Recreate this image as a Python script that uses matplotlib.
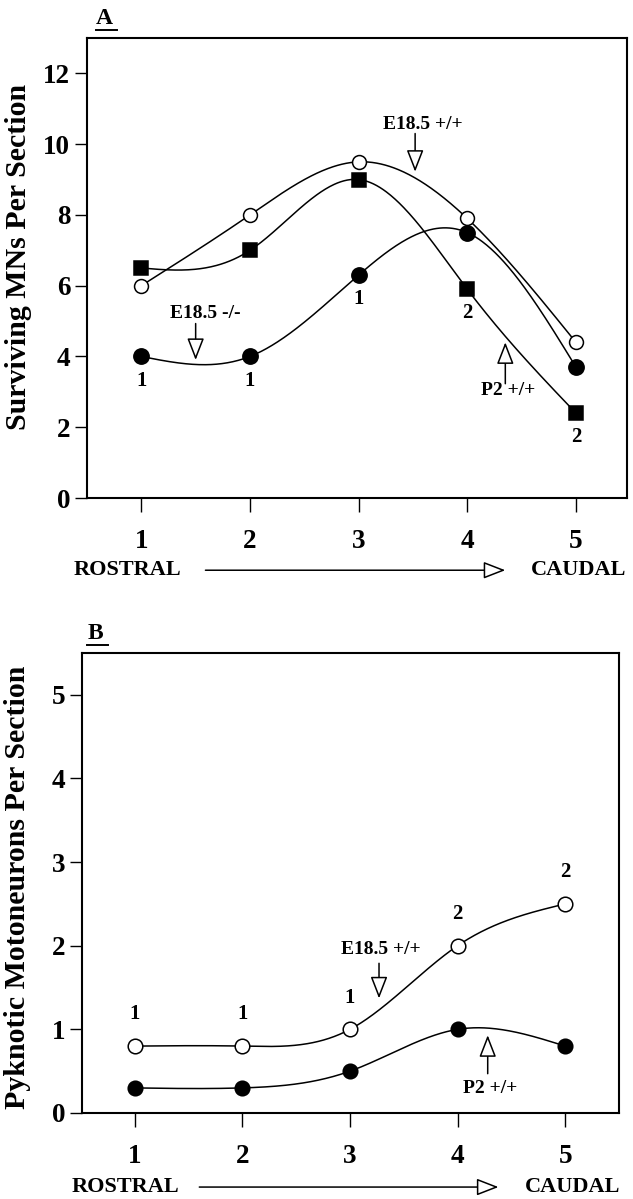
import numpy as np
import matplotlib
matplotlib.use("Agg")
import matplotlib.pyplot as plt
from matplotlib.lines import Line2D

plt.rcParams['font.family'] = ['Liberation Serif', 'DejaVu Serif']
plt.rcParams['font.weight'] = 'bold'

# ---------------- data ----------------
levels = [1, 2, 3, 4, 5]
level_labels = ['1', '2', '3', '4', '5']

# Panel A: surviving MNs per section
a_e185_wt = [6.0, 8.0, 9.5, 7.9, 4.4]      # open circles (E18.5 +/+)
a_p2_wt = [6.5, 7.0, 9.0, 5.9, 2.4]        # filled squares (P2 +/+)
a_e185_ko = [4.0, 4.0, 6.3, 7.5, 3.7]      # filled circles (E18.5 -/-)
a_yticks = [0, 2, 4, 6, 8, 10, 12]

# Panel B: pyknotic motoneurons per section
b_e185_wt = [0.8, 0.8, 1.0, 2.0, 2.5]      # open circles (E18.5 +/+)
b_p2_wt = [0.3, 0.3, 0.5, 1.0, 0.8]        # filled circles (P2 +/+)
b_yticks = [0, 1, 2, 3, 4, 5]

# small number labels (n) near points
a_n_labels = [(1, '1', 'ko'), (2, '1', 'ko'), (3, '1', 'ko'), (4, '2', 'p2'), (5, '2', 'p2')]
b_n_labels = ['1', '1', '1', '2', '2']


def natural_spline(x, y, xs):
    x = np.asarray(x, float)
    y = np.asarray(y, float)
    n = len(x)
    h = np.diff(x)
    A = np.zeros((n, n))
    r = np.zeros(n)
    A[0, 0] = 1
    A[-1, -1] = 1
    for i in range(1, n - 1):
        A[i, i - 1] = h[i - 1]
        A[i, i] = 2 * (h[i - 1] + h[i])
        A[i, i + 1] = h[i]
        r[i] = 3 * ((y[i + 1] - y[i]) / h[i] - (y[i] - y[i - 1]) / h[i - 1])
    c = np.linalg.solve(A, r)
    b = (y[1:] - y[:-1]) / h - h * (2 * c[:-1] + c[1:]) / 3
    d = (c[1:] - c[:-1]) / (3 * h)
    idx = np.clip(np.searchsorted(x, xs) - 1, 0, n - 2)
    dx = xs - x[idx]
    return y[idx] + b[idx] * dx + c[idx] * dx ** 2 + d[idx] * dx ** 3


W, H = 633, 1199
fig = plt.figure(figsize=(W / 100, H / 100), dpi=100)

axA = fig.add_axes([87 / W, 1 - 498 / H, 540 / W, 460 / H])
axB = fig.add_axes([82 / W, 1 - 1113 / H, 537 / W, 460 / H])

LW = 1.1
xs = np.linspace(1, 5, 400)


def style_axis(ax, ylim, xlim, yticks, ylabel, label_xy):
    ax.set_xlim(*xlim)
    ax.set_ylim(*ylim)
    ax.set_xticks(levels)
    ax.set_xticklabels(level_labels)
    ax.set_yticks(yticks)
    ax.set_yticklabels([str(t) for t in yticks])
    for s in ax.spines.values():
        s.set_linewidth(1.5)
    ax.tick_params(axis='x', direction='out', length=10, width=1.0, pad=12, labelsize=19.5)
    ax.tick_params(axis='y', direction='out', length=9, width=1.0, pad=3, labelsize=19.5)
    ax.set_ylabel(ylabel, fontsize=21.5, fontweight='bold', va='center')
    ax.yaxis.set_label_coords(label_xy[0], label_xy[1])


def open_arrow(ax, text, x, y_text, y_tail, y_tip, x_arrow, fs=14):
    ax.text(x, y_text, text, ha='center', va='center', fontsize=fs, fontweight='bold')
    ax.annotate('', xy=(x_arrow, y_tip), xytext=(x_arrow, y_tail),
                arrowprops=dict(arrowstyle='-|>,head_length=0.9,head_width=0.35',
                                facecolor='white', edgecolor='black', lw=1.1,
                                shrinkA=0, shrinkB=0, mutation_scale=15))


def rostral_caudal(ax, x_r, x_c, x0, x1, yfrac):
    ax.text(x_r, yfrac, 'ROSTRAL', transform=ax.get_xaxis_transform(), ha='center', va='center',
            fontsize=16, fontweight='bold', clip_on=False)
    ax.text(x_c, yfrac, 'CAUDAL', transform=ax.get_xaxis_transform(), ha='center', va='center',
            fontsize=16, fontweight='bold', clip_on=False)
    ax.annotate('', xy=(x1, yfrac), xytext=(x0, yfrac), xycoords=('data', 'axes fraction'),
                textcoords=('data', 'axes fraction'), annotation_clip=False,
                arrowprops=dict(arrowstyle='-|>,head_length=0.9,head_width=0.35',
                                facecolor='white', edgecolor='black', lw=1.1,
                                shrinkA=0, shrinkB=0, mutation_scale=15))


def panel_letter(ax, letter, xf, yf):
    ax.text(xf, yf, letter, transform=ax.transAxes, ha='left', va='baseline',
            fontsize=17, fontweight='bold', clip_on=False)
    ax.add_line(Line2D([xf, xf + 0.038], [yf - 0.012, yf - 0.012], transform=ax.transAxes,
                       color='black', lw=1.4, clip_on=False))


# ---------------- Panel A ----------------
style_axis(axA, (0, 13), (0.5, 5.47), a_yticks, 'Surviving MNs Per Section', (-0.126, 0.524))
for ys, mk, fc, ms in [(a_e185_wt, 'o', 'white', 10), (a_p2_wt, 's', 'black', 10.5),
                       (a_e185_ko, 'o', 'black', 11)]:
    axA.plot(xs, natural_spline(levels, ys, xs), color='black', lw=LW, zorder=2)
    axA.plot(levels, ys, linestyle='none', marker=mk, markerfacecolor=fc,
             markeredgecolor='black', markeredgewidth=1.1, markersize=ms, zorder=3)

for xv, lab, which in a_n_labels:
    yv = a_e185_ko[xv - 1] if which == 'ko' else a_p2_wt[xv - 1]
    axA.text(xv, yv - 0.68, lab, ha='center', va='center', fontsize=15, fontweight='bold')

open_arrow(axA, 'E18.5 +/+', 3.59, 10.56, 10.3, 9.22, 3.52)
open_arrow(axA, 'E18.5 -/-', 1.59, 5.21, 4.93, 3.9, 1.50)
open_arrow(axA, 'P2 +/+', 4.38, 3.04, 3.23, 4.4, 4.35)
rostral_caudal(axA, 0.876, 5.02, 1.59, 4.35, -0.157)
panel_letter(axA, 'A', 0.017, 1.03)

# ---------------- Panel B ----------------
style_axis(axB, (0, 5.5), (0.51, 5.5), b_yticks, 'Pyknotic Motoneurons Per Section', (-0.12, 0.49))
for ys, fc in [(b_e185_wt, 'white'), (b_p2_wt, 'black')]:
    axB.plot(xs, natural_spline(levels, ys, xs), color='black', lw=LW, zorder=2)
    axB.plot(levels, ys, linestyle='none', marker='o', markerfacecolor=fc,
             markeredgecolor='black', markeredgewidth=1.1, markersize=10.5, zorder=3)

for xv, yv, lab in zip(levels, b_e185_wt, b_n_labels):
    axB.text(xv, yv + 0.38, lab, ha='center', va='center', fontsize=15, fontweight='bold')

open_arrow(axB, 'E18.5 +/+', 3.29, 1.95, 1.79, 1.37, 3.27)
open_arrow(axB, 'P2 +/+', 4.30, 0.29, 0.47, 0.93, 4.28)
rostral_caudal(axB, 0.917, 5.065, 1.60, 4.38, -0.161)
panel_letter(axB, 'B', 0.01, 1.03)

fig.savefig('out.png', dpi=100)
